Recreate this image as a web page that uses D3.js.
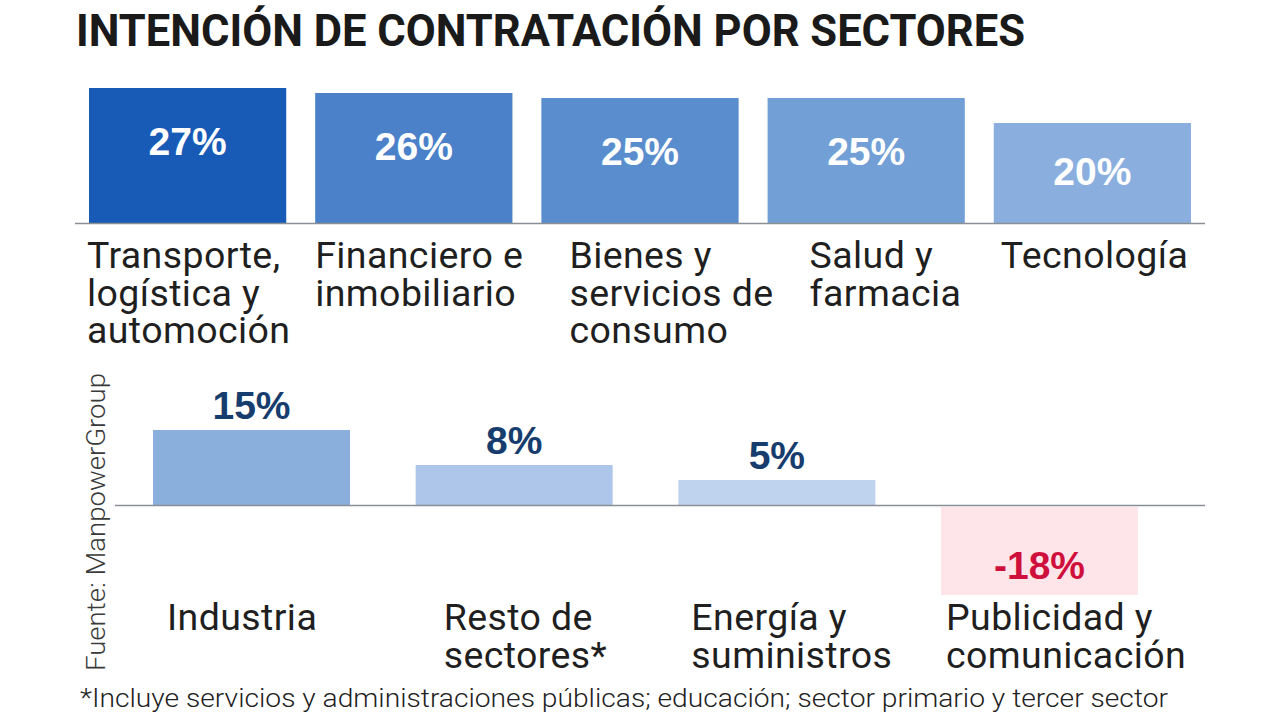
<!DOCTYPE html>
<html><head><meta charset="utf-8">
<script src="https://cdn.jsdelivr.net/npm/d3@7"></script>
<style>body{margin:0;background:#fff}svg{display:block}</style>
</head><body>
<svg id="c" width="1280" height="720"></svg>
<script>
// ---- data ----
const titleText = "INTENCIÓN DE CONTRATACIÓN POR SECTORES";
const topCategories = [["Transporte,","logística y","automoción"],["Financiero e","inmobiliario"],["Bienes y","servicios de","consumo"],["Salud y","farmacia"],["Tecnología"]];
const topValues = [27, 26, 25, 25, 20];
const bottomCategories = [["Industria"],["Resto de","sectores*"],["Energía y","suministros"],["Publicidad y","comunicación"]];
const bottomValues = [15, 8, 5, -18];
const sourceText = "Fuente: ManpowerGroup";
const noteText = "*Incluye servicios y administraciones públicas; educación; sector primario y tercer sector";

// ---- styles / layout ----
const topColors = ["#175bb7", "#4a81c9", "#5a8dcd", "#72a0d6", "#8aafdf"];
const bottomColors = ["#8aafdd", "#adc6e9", "#bfd3ee", "#fde5e9"];
const topLabelDx = [-2, 0, 28, 42, 7];
const bottomLabelDx = [14, 28, 13, 5];

const svg = d3.select("#c");

svg.append("text").attr("x", 76).attr("y", 46)
  .attr("font-family", "Roboto, Liberation Sans, sans-serif").attr("font-weight", 700)
  .attr("font-size", 44).attr("fill", "#1a1a1a")
  .attr("textLength", 949).attr("lengthAdjust", "spacingAndGlyphs")
  .text(titleText);

// top chart
const xTop = d3.scaleBand().domain(d3.range(topValues.length)).range([89, 1191]).paddingInner(0.128).paddingOuter(0);
const yTop = d3.scaleLinear().domain([0, 30]).range([223, 73]);

svg.append("g").selectAll("rect").data(topValues).join("rect")
  .attr("x", (d,i) => xTop(i)).attr("width", xTop.bandwidth())
  .attr("y", d => yTop(d)).attr("height", d => yTop(0) - yTop(d))
  .attr("fill", (d,i) => topColors[i]);

svg.append("line").attr("x1", 75).attr("x2", 1205).attr("y1", yTop(0)+0.5).attr("y2", yTop(0)+0.5)
  .attr("stroke", "#8a8f96").attr("stroke-width", 1.3);

svg.append("g").selectAll("text").data(topValues).join("text")
  .attr("x", (d,i) => xTop(i) + xTop.bandwidth()/2).attr("y", d => yTop(d) + (d < 22 ? 62 : 67))
  .attr("text-anchor", "middle").attr("font-family", "Liberation Sans, Arial, sans-serif")
  .attr("font-weight", 700).attr("font-size", 39).attr("fill", "#fff")
  .text(d => d + "%");

const topLab = svg.append("g").selectAll("text").data(topCategories).join("text")
  .attr("font-family", "Roboto, sans-serif").attr("font-size", 37.5).attr("letter-spacing", 0.4).attr("fill", "#1f1f1f")
  .attr("transform", (d,i) => `translate(${xTop(i) + topLabelDx[i]},268)`);
topLab.selectAll("tspan").data(d => d).join("tspan")
  .attr("x", 0).attr("y", (d,j) => j * 37.5).text(d => d);

// bottom chart
const xBot = d3.scaleBand().domain(d3.range(bottomValues.length)).range([153, 1138]).paddingInner(0.25).paddingOuter(0);
const yBot = d3.scaleLinear().domain([-20, 20]).range([605, 405]);

svg.append("g").selectAll("rect").data(bottomValues).join("rect")
  .attr("x", (d,i) => xBot(i)).attr("width", xBot.bandwidth())
  .attr("y", d => yBot(Math.max(0, d)) + (d < 0 ? 2 : 0)).attr("height", d => Math.abs(yBot(d) - yBot(0)) - (d < 0 ? 2 : 0))
  .attr("fill", (d,i) => bottomColors[i]);

svg.append("line").attr("x1", 115).attr("x2", 1205).attr("y1", yBot(0)+0.5).attr("y2", yBot(0)+0.5)
  .attr("stroke", "#8a8f96").attr("stroke-width", 1.3);

svg.append("g").selectAll("text").data(bottomValues).join("text")
  .attr("x", (d,i) => xBot(i) + xBot.bandwidth()/2)
  .attr("y", d => d >= 0 ? yBot(d) - 11 : yBot(d) - 16)
  .attr("text-anchor", "middle").attr("font-family", "Liberation Sans, Arial, sans-serif")
  .attr("font-weight", 700).attr("font-size", 39).attr("fill", d => d >= 0 ? "#173d6e" : "#d0103c")
  .text(d => d + "%");

const botLab = svg.append("g").selectAll("text").data(bottomCategories).join("text")
  .attr("font-family", "Roboto, sans-serif").attr("font-size", 37.5).attr("letter-spacing", 0.4).attr("fill", "#1f1f1f")
  .attr("transform", (d,i) => `translate(${xBot(i) + bottomLabelDx[i]},630)`);
botLab.selectAll("tspan").data(d => d).join("tspan")
  .attr("x", 0).attr("y", (d,j) => j * 38).text(d => d);

// source (rotated)
svg.append("text").attr("transform", "translate(105,671) rotate(-90)")
  .attr("font-family", "Roboto, sans-serif").attr("font-weight", 300).attr("font-size", 26)
  .attr("fill", "#3a3a3a").attr("textLength", 298).attr("lengthAdjust", "spacingAndGlyphs")
  .text(sourceText);

// footnote
svg.append("text").attr("x", 80).attr("y", 707)
  .attr("font-family", "Roboto, sans-serif").attr("font-weight", 300).attr("font-size", 25)
  .attr("fill", "#222").attr("textLength", 1088).attr("lengthAdjust", "spacingAndGlyphs")
  .text(noteText);
</script>
</body></html>
